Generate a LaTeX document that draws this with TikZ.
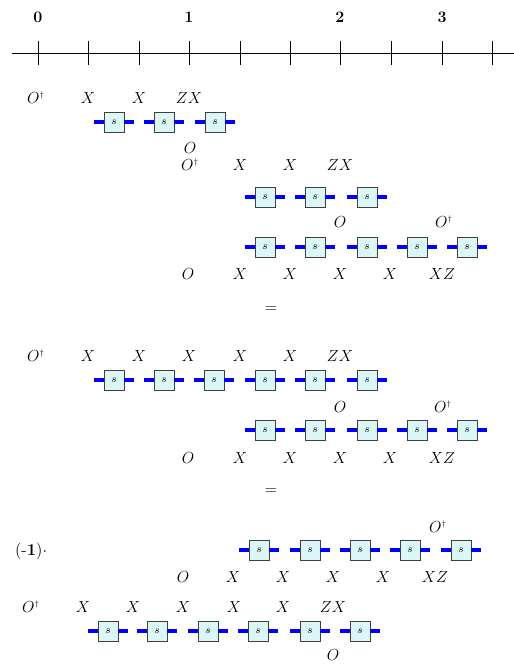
\documentclass[tikz,border=0pt]{standalone}
\usepackage{amsmath, amssymb}
\usetikzlibrary{positioning}

\definecolor{boxfill}{RGB}{218,246,246}
\definecolor{wireblue}{RGB}{0,0,255}

% one row of s-tensors: name prefix, y, list of x
\newcommand{\tensorrow}[3]{%
  \foreach \x [count=\k] in {#3} {
    \node[tensor] (#1-\k) at (\x,#2) {$s$};
    \draw[wire] (#1-\k.west) -- ++(-7.5pt,0);
    \draw[wire] (#1-\k.east) -- ++(7.5pt,0);
  }%
}
\newcommand{\Odag}{$O^{\scriptscriptstyle\dagger}$}

\begin{document}
\begin{tikzpicture}[
        x=0.75pt, y=-0.75pt,
        font=\fontsize{12.5}{15}\selectfont,
        tensor/.style={draw=black!75, fill=boxfill, minimum size=15pt, inner sep=0pt, font=\footnotesize},
        wire/.style={draw=wireblue, line width=3pt},
        lbl/.style={anchor=base, inner sep=0pt}
      ]

      \useasboundingbox (0,0) rectangle (514,664);

      % ==================== TIME AXIS ====================

      \draw[line width=0.6pt] (12,53) -- (514,53);
      \foreach \x in {38,88,139,189,240,290,340,391,442,492}
        \draw[line width=0.6pt] (\x,41) -- (\x,65);
      \foreach \n/\x in {0/38,1/189,2/340,3/442}
        \node[lbl, font=\fontsize{12}{14}\selectfont\bfseries] (t\n) at (\x,22) {\n};

      % ==================== FIRST PRODUCT ====================

      \node[lbl] (a-od) at (36,103) {\Odag};
      \foreach \x [count=\k] in {88,139}
        \node[lbl] (a-x\k) at (\x,103) {$X$};
      \node[lbl] (a-zx) at (189,103) {$ZX$};
      \tensorrow{a}{122}{114,164,215}
      \node[lbl] (a-o) at (190,153) {$O$};

      \node[lbl] (b-od) at (190,170) {\Odag};
      \foreach \x [count=\k] in {240,290}
        \node[lbl] (b-x\k) at (\x,170) {$X$};
      \node[lbl] (b-zx) at (340,170) {$ZX$};
      \tensorrow{b}{197}{265,315,367}
      \node[lbl] (b-o) at (340,227) {$O$};
      \node[lbl] (c-od) at (444,227) {\Odag};
      \tensorrow{c}{247}{265,315,367,417,467}
      \node[lbl] (c-o) at (188,279) {$O$};
      \foreach \x [count=\k] in {240,290,340,390}
        \node[lbl] (c-x\k) at (\x,279) {$X$};
      \node[lbl] (c-xz) at (442,279) {$XZ$};

      \node (eq1) at (271,310) {$=$};

      % ==================== SECOND PRODUCT ====================

      \node[lbl] (d-od) at (36,361) {\Odag};
      \foreach \x [count=\k] in {88,139,189,240,290}
        \node[lbl] (d-x\k) at (\x,361) {$X$};
      \node[lbl] (d-zx) at (340,361) {$ZX$};
      \tensorrow{d}{380}{114,164,214,265,315,367}
      \node[lbl] (d-o) at (340,412) {$O$};
      \node[lbl] (e-od) at (443,412) {\Odag};
      \tensorrow{e}{430}{265,315,367,417,467}
      \node[lbl] (e-o) at (188,463) {$O$};
      \foreach \x [count=\k] in {240,290,340,390}
        \node[lbl] (e-x\k) at (\x,463) {$X$};
      \node[lbl] (e-xz) at (442,463) {$XZ$};

      \node (eq2) at (271,492) {$=$};

      % ==================== SIGN-FLIPPED PRODUCT ====================

      \node[lbl] (sign) at (31,555) {(-\textbf{1})$\cdot$};
      \node[lbl] (f-od) at (438,532) {\Odag};
      \tensorrow{f}{550}{259,310,360,410,461}
      \node[lbl] (f-o) at (183,582) {$O$};
      \foreach \x [count=\k] in {233,283,333,383}
        \node[lbl] (f-x\k) at (\x,582) {$X$};
      \node[lbl] (f-xz) at (435,582) {$XZ$};

      \node[lbl] (g-od) at (31,612) {\Odag};
      \foreach \x [count=\k] in {83,133,183,234,283}
        \node[lbl] (g-x\k) at (\x,612) {$X$};
      \node[lbl] (g-zx) at (333,612) {$ZX$};
      \tensorrow{g}{631}{108,157,208,258,310,360}
      \node[lbl] (g-o) at (333,660) {$O$};

    \end{tikzpicture}
\end{document}
